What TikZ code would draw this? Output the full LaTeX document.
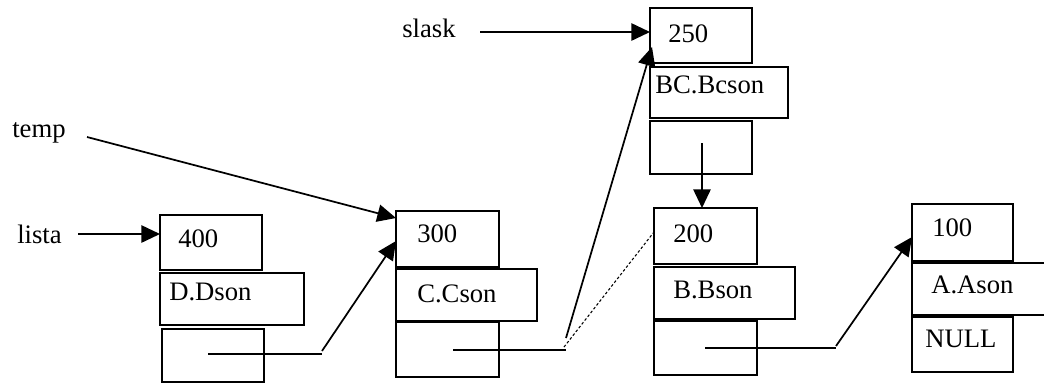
\documentclass[tikz,border=0pt]{standalone}
\usepackage{fontspec}
\setmainfont{Liberation Serif}
\usetikzlibrary{arrows.meta,calc}
\begin{document}
\begin{tikzpicture}[x=0.75pt,y=-0.75pt,
  cell/.style={draw,line width=1.2pt,anchor=north west,inner sep=0pt,outer sep=0pt},
  lbl/.style={anchor=base west,inner sep=0pt,font=\fontsize{20}{22}\selectfont},
  ptr/.style={line width=1.8pt},
  arr/.style={line width=1.3pt,-{Triangle[length=14pt,width=13pt]}},
  dots/.style={line width=0.8pt,dash pattern=on 2pt off 1.6pt}]
\clip (0,0) rectangle (1044,383);
\fill[white] (0,0) rectangle (1044,383);
% D node
\node[cell,minimum width=76.5pt,minimum height=41.25pt] (d1) at (160,215) {};
\node[cell,minimum width=108pt,minimum height=39pt] (d2) at (160,273) {};
\node[cell,minimum width=76.5pt,minimum height=39.75pt] (d3) at (162,329) {};
% C node
\node[cell,minimum width=77.25pt,minimum height=42pt] (c1) at (396,211) {};
\node[cell,minimum width=105.75pt,minimum height=39pt] (c2) at (396,269) {};
\node[cell,minimum width=77.25pt,minimum height=41.25pt] (c3) at (396,322) {};
% BC node
\node[cell,minimum width=76.5pt,minimum height=41.25pt] (e1) at (650,8) {};
\node[cell,minimum width=103.5pt,minimum height=38.25pt] (e2) at (650,67) {};
\node[cell,minimum width=76.5pt,minimum height=39.75pt] (e3) at (650,121) {};
% B node
\node[cell,minimum width=77.25pt,minimum height=42pt] (b1) at (654,208) {};
\node[cell,minimum width=105.75pt,minimum height=39pt] (b2) at (654,267) {};
\node[cell,minimum width=77.25pt,minimum height=40.5pt] (b3) at (654,321) {};
% A node
\node[cell,minimum width=75.75pt,minimum height=42.75pt] (a1) at (912,204) {};
\node[cell,minimum width=110pt,minimum height=39pt] (a2) at (912,263) {};
\node[cell,minimum width=75.75pt,minimum height=41.25pt] (a3) at (912,317) {};
% texts
\node[lbl] (t400) at (178,247) {400};
\node[lbl] (tD) at (169,300) {D.Dson};
\node[lbl] (t300) at (417,242) {300};
\node[lbl] (tC) at (417,302) {C.Cson};
\node[lbl] (t250) at (668,42) {250};
\node[lbl] (tBC) at (655,93) {BC.Bcson};
\node[lbl] (t200) at (673,242) {200};
\node[lbl] (tB) at (673,298) {B.Bson};
\node[lbl] (t100) at (932,236) {100};
\node[lbl] (tA) at (931,293) {A.Ason};
\node[lbl] (tN) at (925,347) {NULL};
\node[lbl] (slask) at (402,37) {slask};
\node[lbl] (temp) at (12,137) {temp};
\node[lbl] (lista) at (17,243) {lista};
% coordinates
\coordinate (listaS) at (78,234);
\coordinate (tempS) at (87,137);
\coordinate (slaskS) at (480,32);
\coordinate (dS) at (208,354);
\coordinate (dE) at (322,354);
\coordinate (cS) at (453,350);
\coordinate (cE) at (566,350);
\coordinate (eS) at (702,143);
\coordinate (bS) at (705,348);
\coordinate (bE) at (836,348);
% connectors
\draw[arr] (listaS) -- (listaS -| d1.west);
\draw[arr] (tempS) -- ($(c1.north west)+(0,7)$);
\draw[arr] (slaskS) -- (slaskS -| e1.west);
\draw[ptr] (dS) -- (dE);
\draw[arr] ($(dE)+(0,-3)$) -- ($(c1.north west)+(0,30)$);
\draw[ptr] (cS) -- (cE);
\draw[arr] ($(cE)+(0,-12)$) -- ($(e1.north west)+(2,39)$);
\draw[dots] ($(cE)+(-2,-3)$) -- ($(b1.north west)+(0,24)$);
\draw[arr] (eS) -- (eS |- b1.north);
\draw[ptr] (bS) -- (bE);
\draw[arr] ($(bE)+(0,-2)$) -- ($(a1.north west)+(0,33)$);
\end{tikzpicture}
\end{document}
